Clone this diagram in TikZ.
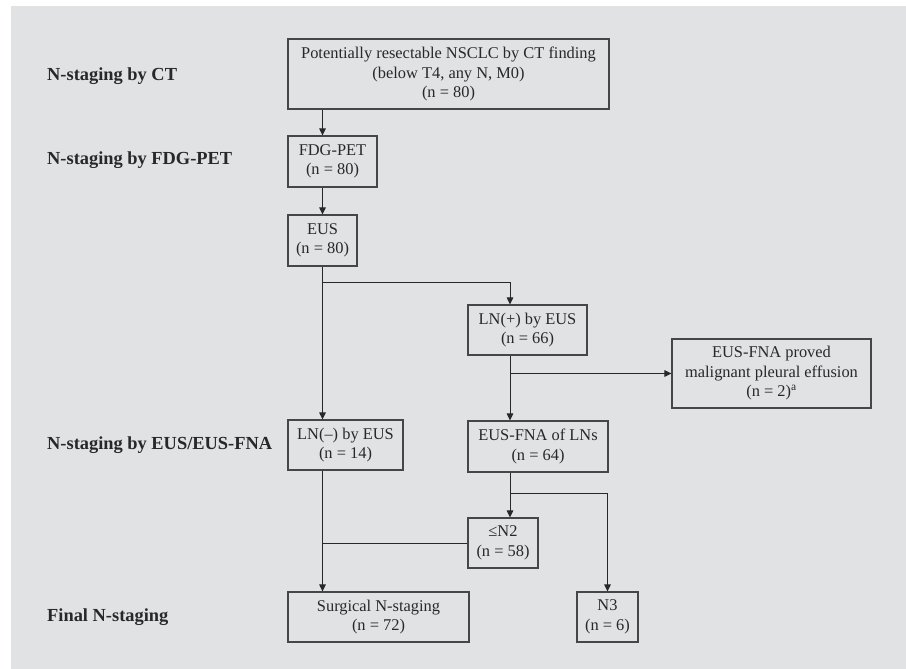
\documentclass[tikz,border=0pt]{standalone}
\usepackage{fontspec}
\setmainfont{Liberation Serif}
\usetikzlibrary{arrows.meta, positioning}
\definecolor{panel}{RGB}{225,226,228}
\definecolor{frame}{RGB}{70,70,70}
\definecolor{ink}{RGB}{40,40,40}
\tikzset{box/.style={draw=frame, line width=1.1pt, align=center, inner sep=0pt,
  text=ink, font=\fontsize{16.4}{19.5}\selectfont}}
\tikzset{stage/.style={anchor=west, inner sep=0pt, text=ink,
  font=\fontsize{18.4}{22}\selectfont\bfseries}}
\tikzset{link/.style={draw=ink, line width=1pt}}
\tikzset{arr/.style={link, -{Triangle[length=7pt,width=6.5pt]}}}

\begin{document}
\begin{tikzpicture}[x=1pt, y=-1pt]
  \useasboundingbox (0,0) rectangle (906,669);
  \fill[white] (0,0) rectangle (906,669);
  \fill[panel] (11,6) rectangle (906,669);
  % Stage labels
  \node[stage] (sct) at (47,76) {N-staging by CT};
  \node[stage] (spet) at (47,160) {N-staging by FDG-PET};
  \node[stage] (seus) at (47,445) {N-staging by EUS/EUS-FNA};
  \node[stage] (sfin) at (47,617) {Final N-staging};
  % Boxes
  \node[box, minimum width=321pt, minimum height=70pt] (ct) at (448.5,74)
    {Potentially resectable NSCLC by CT finding\\(below T4, any N, M0)\\(n = 80)};
  \node[box, minimum width=89pt, minimum height=51pt] (pet) at (332.5,161.5)
    {FDG-PET\\(n = 80)};
  \node[box, minimum width=69pt, minimum height=51pt] (eus) at (322.5,240.5)
    {EUS\\(n = 80)};
  \node[box, minimum width=119pt, minimum height=50pt] (lnpos) at (527.5,330)
    {LN(+) by EUS\\(n = 66)};
  \node[box, minimum width=199pt, minimum height=69pt] (pleural) at (771.5,373.5)
    {EUS-FNA proved\\malignant pleural effusion\\(n = 2)\textsuperscript{a}};
  \node[box, minimum width=115pt, minimum height=50pt] (lnneg) at (345.5,445)
    {LN(–) by EUS\\(n = 14)};
  \node[box, minimum width=140pt, minimum height=51pt] (fna) at (538,446.5)
    {EUS-FNA of LNs\\(n = 64)};
  \node[box, minimum width=70pt, minimum height=50pt] (len2) at (503,543)
    {≤N2\\(n = 58)};
  \node[box, minimum width=181pt, minimum height=50pt] (surg) at (378.5,617)
    {Surgical N-staging\\(n = 72)};
  \node[box, minimum width=61pt, minimum height=50pt] (nthree) at (607.5,617)
    {N3\\(n = 6)};
  % Connectors
  \coordinate (fork) at (510,282);
  \coordinate (fork2) at (510,493);
  \draw[arr] (ct.south -| eus) -- (pet.north -| eus);
  \draw[arr] (pet.south -| eus) -- (eus.north);
  \draw[arr] (eus.south) -- (lnneg.north -| eus);
  \draw[arr] (eus.south |- fork) -| (lnpos.north -| fork);
  \draw[arr] (lnpos.south -| fork) -- (fna.north -| fork);
  \draw[arr] (fork |- pleural.west) -- (pleural.west);
  \draw[arr] (fna.south -| fork) -- (len2.north -| fork);
  \draw[arr] (fork2) -| (nthree.north);
  \draw[link] (len2.west) -- (len2.west -| eus);
  \draw[arr] (lnneg.south -| eus) -- (surg.north -| eus);
\end{tikzpicture}
\end{document}
